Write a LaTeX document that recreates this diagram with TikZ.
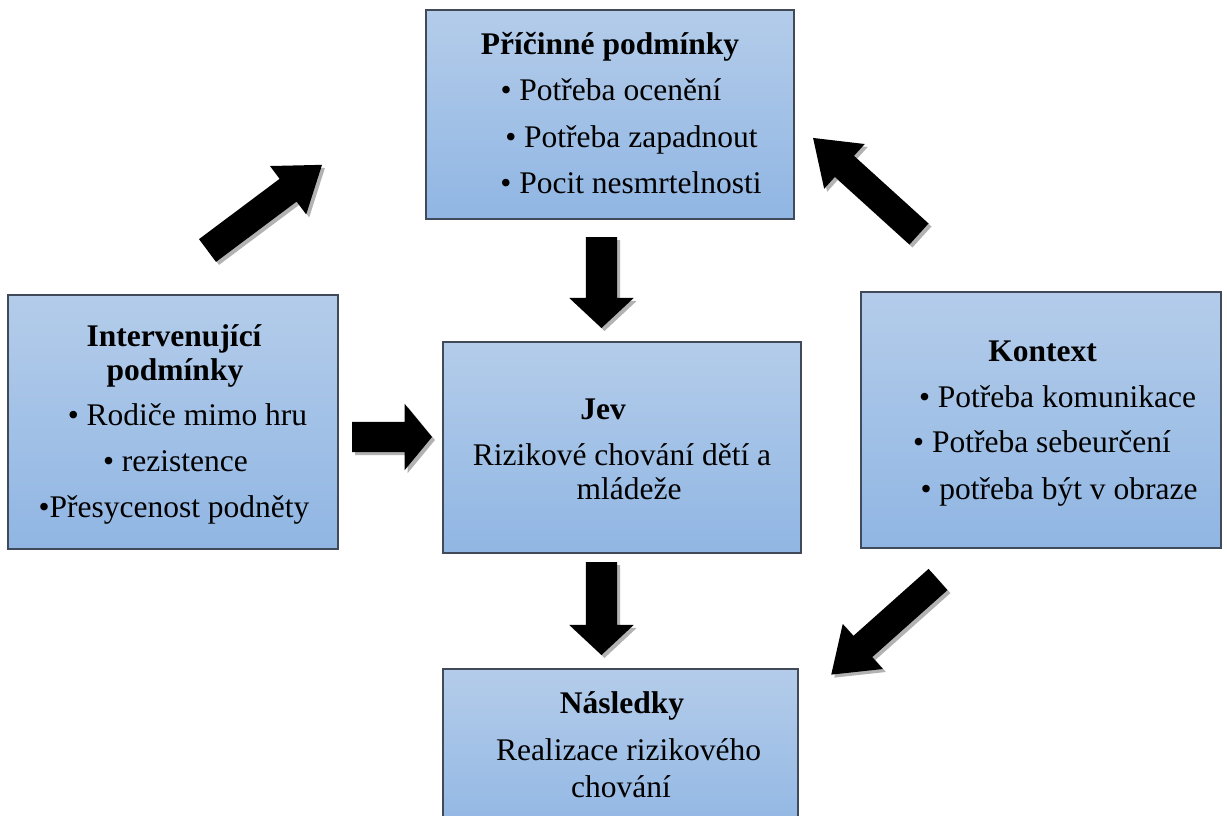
\documentclass[tikz,border=0pt]{standalone}
\usepackage{fontspec}
\setmainfont{Liberation Serif}
\usetikzlibrary{shapes.arrows}
\definecolor{boxtop}{RGB}{180,204,234}
\definecolor{boxbot}{RGB}{144,182,227}
\definecolor{boxline}{RGB}{64,74,88}
\definecolor{shadowgray}{RGB}{178,178,178}
\begin{document}
\begin{tikzpicture}[x=1pt,y=-1pt,
  box/.style={rectangle, draw=boxline, line width=1.6pt, top color=boxtop, bottom color=boxbot, inner sep=0pt},
  txt/.style={anchor=base, inner sep=0pt, font=\fontsize{31.5}{38}\selectfont},
  ttl/.style={anchor=base, inner sep=0pt, font=\fontsize{31.5}{38}\selectfont\bfseries},
  varrow/.style={single arrow, anchor=tail, outer sep=0pt, inner xsep=0pt, inner ysep=15.5pt, single arrow head extend=16.5pt, single arrow tip angle=94},
  harrow/.style={single arrow, anchor=tail, outer sep=0pt, inner xsep=0pt, inner ysep=15pt, minimum height=80pt, single arrow head extend=18pt, single arrow tip angle=101},
  darrow/.style={single arrow, anchor=tail, outer sep=0pt, inner xsep=0pt, inner ysep=14pt, minimum height=143pt, single arrow head extend=16pt, single arrow tip angle=71},
  shade arrow/.style={fill=shadowgray, draw=none},
  solid arrow/.style={fill=black, draw=none}
]
\useasboundingbox (0,0) rectangle (1227,816);
\clip (0,0) rectangle (1227,816);

% boxes
\node[box, minimum width=368pt, minimum height=209pt] (cause) at (610,114.5) {};
\node[box, minimum width=330pt, minimum height=254pt] (inter) at (173,422) {};
\node[box, minimum width=358pt, minimum height=211pt] (jev) at (622,447.5) {};
\node[box, minimum width=360pt, minimum height=256pt] (ctx) at (1041,420) {};
\node[box, minimum width=355pt, minimum height=170pt] (cons) at (620.5,754) {};

% texts: causal conditions
\node[ttl] (causeT) at (610,55) {Příčinné podmínky};
\node[txt] (causeA) at (611,100) {• Potřeba ocenění};
\node[txt] (causeB) at (631.5,147) {• Potřeba zapadnout};
\node[txt] (causeC) at (631,193) {• Pocit nesmrtelnosti};

% intervening conditions
\node[ttl] (interT1) at (174,346) {Intervenující};
\node[ttl] (interT2) at (175,380) {podmínky};
\node[txt] (interA) at (187.5,425) {• Rodiče mimo hru};
\node[txt] (interB) at (175.5,471) {• rezistence};
\node[txt] (interC) at (174,517) {•Přesycenost podněty};

% phenomenon
\node[ttl] (jevT) at (603,419) {Jev};
\node[txt] (jevA) at (622,465) {Rizikové chování dětí a};
\node[txt] (jevB) at (629,499) {mládeže};

% context
\node[ttl] (ctxT) at (1042.5,361) {Kontext};
\node[txt] (ctxA) at (1057.5,407) {• Potřeba komunikace};
\node[txt] (ctxB) at (1042,452) {• Potřeba sebeurčení};
\node[txt] (ctxC) at (1059,499) {• potřeba být v obraze};

% consequences
\node[ttl] (consT) at (622,713) {Následky};
\node[txt] (consA) at (628.5,760) {Realizace rizikového};
\node[txt] (consB) at (621,797) {chování};

% arrows: shadows first (placed by their tails)
\node[varrow, shade arrow, minimum height=91pt, rotate=-90] (a1s) at (604.5,240) {};
\node[varrow, shade arrow, minimum height=93pt, rotate=-90] (a2s) at (604.5,565) {};
\node[harrow, shade arrow] (a3s) at (355,440) {};
\node[darrow, shade arrow, rotate=36.8] (a4s) at (210.5,253.5) {};
\node[darrow, shade arrow, rotate=137.8] (a5s) at (922,237) {};
\node[darrow, shade arrow, rotate=-138.3] (a6s) at (941,582.5) {};

\node[varrow, solid arrow, minimum height=91pt, rotate=-90] (a1) at (601.5,237) {};
\node[varrow, solid arrow, minimum height=93pt, rotate=-90] (a2) at (601.5,562) {};
\node[harrow, solid arrow] (a3) at (352,437) {};
\node[darrow, solid arrow, rotate=36.8] (a4) at (207.5,250.5) {};
\node[darrow, solid arrow, rotate=137.8] (a5) at (919,234) {};
\node[darrow, solid arrow, rotate=-138.3] (a6) at (938,579.5) {};
\end{tikzpicture}
\end{document}
